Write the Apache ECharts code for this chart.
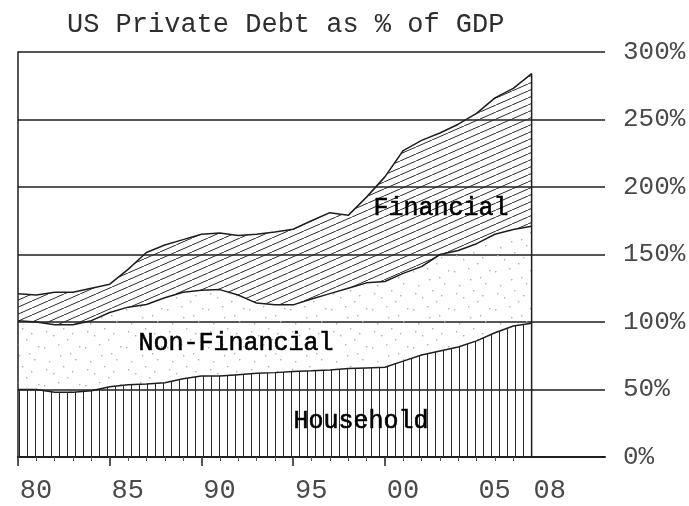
<!DOCTYPE html>
<html>
<head>
<meta charset="utf-8">
<script src="https://cdn.jsdelivr.net/npm/echarts@6/dist/echarts.min.js"></script>
<style>
html,body{margin:0;padding:0;background:#fff;}
#chart{width:689px;height:506px;}
</style>
</head>
<body>
<div id="chart"></div>
<script>
// ---- data ----
const years = [1980,1981,1982,1983,1984,1985,1986,1987,1988,1989,1990,1991,1992,1993,1994,1995,1996,1997,1998,1999,2000,2001,2002,2003,2004,2005,2006,2007,2008];
const axisYears = [1980,1981,1982,1983,1984,1985,1986,1987,1988,1989,1990,1991,1992,1993,1994,1995,1996,1997,1998,1999,2000,2001,2002,2003,2004,2005,2006,2007,2008,2009,2010,2011,2012];
const household    = [50,50,48,48,49,52,53.5,54,55,58,60,60,61,62,62.5,63.4,63.8,64.5,65.5,66,66.5,71,75.5,78.5,81.5,86,92,97,99];
const nonFinancial = [51,50,50,50,52,55,57.5,59,63,64,63.5,64,59,52,50.2,49.3,53.2,56.5,59.5,63,63.5,65,65.5,71.5,71.5,72,73,71.5,72];
const financial    = [20,20,24,24,24,21,28,38.5,39,39,41.5,42,44,51,54,56,58,60,54,63.5,77.5,91,93.5,90,93.5,96.5,101,104.5,113];
const xLabelYears  = [1980,1985,1990,1995,2000,2005,2008];
const xMajorTicks  = [1980,1985,1990,1995,2000];
const seriesNames  = ['Household','Non-Financial','Financial'];

// ---- patterns ----
function makeTile(w, h, draw) {
  const c = document.createElement('canvas');
  c.width = w; c.height = h;
  const ctx = c.getContext('2d');
  draw(ctx, w, h);
  return c;
}
const diagTile = makeTile(16, 7, (ctx, w, h) => {
  ctx.strokeStyle = '#2b2b2b'; ctx.lineWidth = 1;
  for (let k = -1; k <= 1; k++) {
    ctx.beginPath();
    ctx.moveTo(k * w, h);
    ctx.lineTo((k + 1) * w, 0);
    ctx.stroke();
  }
});
const vertTile = makeTile(8, 4, (ctx, w, h) => {
  ctx.fillStyle = '#2a2a2a';
  ctx.fillRect(3, 0, 1, h);
});
const dots = [[3,5],[17,2],[29,11],[8,19],[22,24],[34,17],[12,31],[26,35],[5,27],[31,29],[19,13],[38,4]];
const speckTile = makeTile(41, 38, (ctx) => {
  ctx.fillStyle = '#b0b0b0';
  dots.forEach(d => ctx.fillRect(d[0], d[1], 1.4, 1.4));
});

const fills = [
  {image: vertTile, repeat: 'repeat'},
  {image: speckTile, repeat: 'repeat'},
  {image: diagTile, repeat: 'repeat'}
];
const values = [household, nonFinancial, financial];
const lastTotal = household[household.length-1] + nonFinancial[nonFinancial.length-1] + financial[financial.length-1];
const lastYear = String(years[years.length-1]);

const MONO = '"Liberation Mono", "DejaVu Sans Mono", monospace';
const chart = echarts.init(document.getElementById('chart'));
const cats = axisYears.map(String);

const series = values.map((arr, s) => ({
  name: seriesNames[s],
  type: 'line',
  stack: 'total',
  data: arr.slice(),
  showSymbol: false,
  symbol: 'none',
  lineStyle: {color: '#1e1e1e', width: 1.5},
  areaStyle: {color: fills[s], opacity: 1},
  silent: true,
  z: 3
}));
series.push({
  name: 'edge',
  type: 'line',
  data: [[lastYear, 0], [lastYear, lastTotal]],
  symbol: 'none',
  lineStyle: {color: '#1e1e1e', width: 1.5},
  silent: true,
  z: 4
});

const isIn = list => (idx, val) => list.indexOf(+val) >= 0;
const labelStyle = {font: '25px ' + MONO, fill: '#000', stroke: '#000', lineWidth: 0.6, align: 'center', verticalAlign: 'middle'};

chart.setOption({
  animation: false,
  backgroundColor: '#fff',
  title: {
    text: 'US Private Debt as % of GDP',
    left: 62, top: 6,
    textStyle: {fontFamily: MONO, fontSize: 27, fontWeight: 'normal', color: '#2e2e2e'}
  },
  grid: {left: 18, right: 84, top: 52, bottom: 49},
  xAxis: [{
    type: 'category', data: cats, boundaryGap: false,
    position: 'bottom',
    axisLine: {show: true, lineStyle: {color: '#1e1e1e', width: 2}},
    axisTick: {show: true, interval: isIn(xMajorTicks), length: 9, lineStyle: {color: '#1e1e1e', width: 1.5}},
    axisLabel: {
      interval: isIn(xLabelYears),
      formatter: v => String(v).slice(2),
      fontFamily: MONO, fontSize: 27, color: '#4a4a4a', margin: 20,
      padding: [0, 0, 0, 36]
    },
    splitLine: {show: false}
  }, {
    type: 'category', data: cats, boundaryGap: false,
    position: 'bottom',
    axisLine: {show: false},
    axisTick: {show: true, interval: (idx, val) => +val < 2008, length: 4, lineStyle: {color: '#555', width: 1}},
    axisLabel: {show: false},
    splitLine: {show: false}
  }],
  yAxis: [{
    type: 'value', min: 0, max: 300, interval: 50,
    position: 'right',
    axisLine: {show: false},
    axisTick: {show: false},
    axisLabel: {formatter: '{value}%', fontFamily: MONO, fontSize: 26, color: '#4a4a4a', margin: 18},
    splitLine: {show: true, lineStyle: {color: '#1e1e1e', width: 1.5}}
  }, {
    type: 'value', min: 0, max: 300, interval: 50,
    position: 'left',
    axisLine: {show: true, lineStyle: {color: '#1e1e1e', width: 1.5}},
    axisTick: {show: false},
    axisLabel: {show: false},
    splitLine: {show: false}
  }],
  graphic: [
    {type: 'text', x: 441, y: 208, z: 10, style: Object.assign({text: 'Financial'}, labelStyle)},
    {type: 'text', x: 236, y: 343, z: 10, style: Object.assign({text: 'Non-Financial'}, labelStyle)},
    {type: 'text', x: 361, y: 421, z: 10, style: Object.assign({text: 'Household'}, labelStyle)}
  ],
  series: series
});
</script>
</body>
</html>
